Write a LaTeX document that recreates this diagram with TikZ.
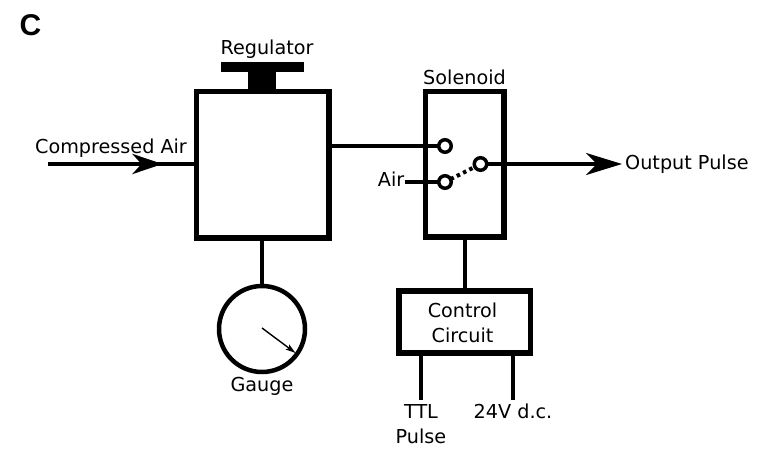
\documentclass[tikz,border=0pt]{standalone}
\usepackage{fontspec}
\setmainfont{DejaVu Sans}
\newfontfamily\panelfont{Liberation Sans}
\usetikzlibrary{arrows.meta}

\tikzset{
    box/.style={draw, line width=5.5pt, outer sep=0pt, inner sep=0pt},
    contact/.style={draw, circle, line width=3.5pt, minimum size=12.5pt, inner sep=0pt, outer sep=0pt},
    wire/.style={line width=4.5pt},
    label/.style={inner sep=0pt, font=\fontsize{19.2}{23}\selectfont, align=center},
    bigtip/.style={-{Stealth[length=36pt, width=22pt, inset=11pt]}},
    smalltip/.style={-{Stealth[length=30pt, width=20pt, inset=9pt]}},
}

\begin{document}
\begin{tikzpicture}[x=1pt, y=-1pt]
    \useasboundingbox (0, 0) rectangle (775, 470);

    \node [inner sep=0pt, font=\panelfont\bfseries\fontsize{30}{32}\selectfont] (panel) at (30.5, 25.5) {C};

    % boxes
    \node [box, minimum width=132.5pt, minimum height=146.5pt] (regulator) at (262.5, 164.75) {};
    \node [box, minimum width=78.5pt, minimum height=145.5pt] (solenoid) at (464.75, 164.25) {};
    \node [box, minimum width=131.5pt, minimum height=62pt] (control) at (464.75, 322) {};
    \node [draw, circle, line width=4.5pt, minimum size=86pt, inner sep=0pt, outer sep=0pt] (gauge) at (262, 329) {};

    % regulator knob
    \node [fill=black, minimum width=83pt, minimum height=10pt, inner sep=0pt] (knobtop) at (262.5, 67) {};
    \node [fill=black, minimum width=28pt, minimum height=20pt, inner sep=0pt] (knobstem) at (262, 81) {};

    % switch contacts
    \node [contact] (upper) at (445, 146) {};
    \node [contact] (lower) at (445, 182) {};
    \node [contact] (common) at (480.5, 164) {};

    % texts
    \node [label] (reglabel) at (267, 49) {Regulator};
    \node [label] (sollabel) at (464.5, 77) {Solenoid};
    \node [label] (inlabel) at (111, 148) {Compressed Air};
    \node [label, anchor=east] (airlabel) at (404.5, 179.5) {Air};
    \node [label, anchor=west] (outlabel) at (625, 164.5) {Output Pulse};
    \node [label] (gaugelabel) at (262, 386.5) {Gauge};
    \node [label] (ctllabel) at (462.5, 322.5) {Control\\[1.7pt]Circuit};
    \node [label, anchor=north] (ttllabel) at (421, 404) {TTL\\[2pt]Pulse};
    \node [label, anchor=north] (dclabel) at (513, 404) {24V d.c.};

    % free ends
    \coordinate (airin) at (48, 164);
    \coordinate (airtip) at (162.5, 164);
    \coordinate (outtip) at (622, 164);
    \coordinate (needlestart) at (262, 328);
    \coordinate (needletip) at (295.5, 353);

    % connectors
    \draw [wire] (airin) -- (regulator.west |- airin);
    \draw [wire, smalltip] (airin) -- (airtip);
    \draw [wire] (regulator.east |- upper) -- (upper);
    \draw [wire] (airlabel.east |- lower) -- (lower);
    \draw [wire, bigtip] (common) -- (outtip);
    \draw [dash pattern=on 3.5pt off 3.5pt, line width=4pt] (lower) -- (common);
    \draw [wire] (regulator.south -| gauge) -- (gauge);
    \draw [wire] (solenoid.south) -- (control.north);
    \draw [wire, shorten >=4pt] (control.south -| ttllabel) -- (ttllabel);
    \draw [wire, shorten >=4pt] (control.south -| dclabel) -- (dclabel);
    \draw [line width=1.4pt, -{Stealth[length=10pt, width=6pt, inset=2pt]}] (needlestart) -- (needletip);
\end{tikzpicture}
\end{document}
